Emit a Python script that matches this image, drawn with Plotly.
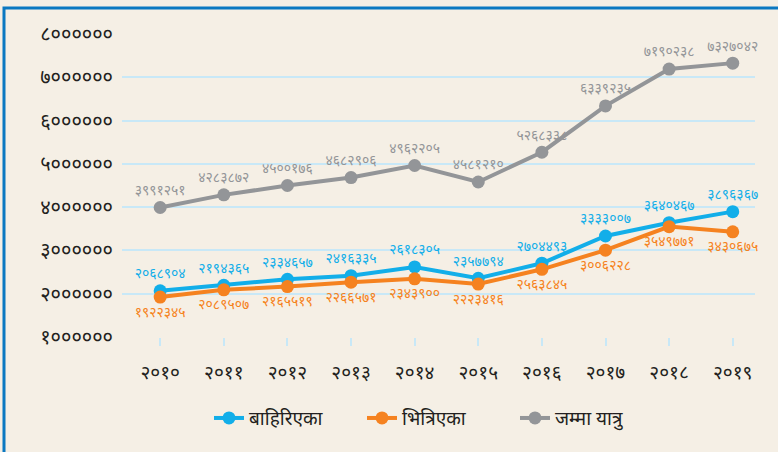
import plotly.graph_objects as go

years = ["2010", "2011", "2012", "2013", "2014", "2015", "2016", "2017", "2018", "2019"]
outbound = [2068904, 2194365, 2334657, 2416335, 2618305, 2357794, 2704493, 3333007, 3640467, 3896367]
inbound = [1922345, 2089507, 2165519, 2266571, 2343900, 2223416, 2563845, 3006228, 3549771, 3430675]
total = [3991251, 4283872, 4500176, 4682906, 4962205, 4581210, 5268338, 6339235, 7190238, 7327042]
names = ["बाहिरिएका", "भित्रिएका", "जम्मा यात्रु"]
ytick_vals = [1000000, 2000000, 3000000, 4000000, 5000000, 6000000, 7000000, 8000000]

DEV = str.maketrans("0123456789", "०१२३४५६७८९")
def dev(v):
    return str(v).translate(DEV)

FONT = "Noto Sans, Noto Sans Devanagari, Lohit Devanagari, FreeSans, sans-serif"
BLUE = "#12AEE9"
ORANGE = "#F58220"
GRAY = "#939598"

fig = go.Figure()
series = [(outbound, BLUE, "top center"), (inbound, ORANGE, "bottom center"), (total, GRAY, "top center")]
for (vals, col, pos), name in zip(series, names):
    fig.add_trace(go.Scatter(
        x=years, y=vals, name=name, mode="lines+markers+text",
        line=dict(color=col, width=4), marker=dict(color=col, size=13),
        text=[dev(v) for v in vals], textposition=pos,
        textfont=dict(color=col, size=14, family=FONT), cliponaxis=False,
    ))

L, R, T, B = 122, 23, 34, 115
W, H = 778, 452
pw, ph = W - L - R, H - T - B
bx = (4 - L) / pw
by = 1 + (T - 8) / ph

fig.update_layout(
    width=W, height=H,
    margin=dict(l=L, r=R, t=T, b=B),
    paper_bgcolor="#F5EFE5", plot_bgcolor="#F5EFE5",
    font=dict(family=FONT, color="#231F20"),
    showlegend=True,
    legend=dict(orientation="h", x=0.5, xanchor="center", y=-0.205, yanchor="top",
                font=dict(size=19, color="#231F20"), bgcolor="rgba(0,0,0,0)",
                entrywidth=108, entrywidthmode="pixels"),
    xaxis=dict(type="category", range=[-0.6, 9.35], showgrid=False, showline=False,
               ticks="outside", ticklen=8, tickcolor="#C8E8F7", tickwidth=2,
               tickvals=years, ticktext=[dev(y) for y in years],
               tickfont=dict(size=19, color="#231F20"), zeroline=False,
               ticklabelstandoff=10),
    yaxis=dict(range=[1000000, 8000000], tickvals=ytick_vals,
               ticktext=[dev(v) for v in ytick_vals],
               tickfont=dict(size=20, color="#231F20"),
               showgrid=True, gridcolor="#C8E8F7", gridwidth=2,
               zeroline=False, showline=False, ticks="", ticklabelstandoff=8),
    shapes=[dict(type="rect", xref="paper", yref="paper", x0=bx, x1=1.3, y0=-0.6, y1=by,
                 line=dict(color="#0B78C1", width=3), fillcolor="rgba(0,0,0,0)", layer="below")],
)
fig.write_html("out.html")
